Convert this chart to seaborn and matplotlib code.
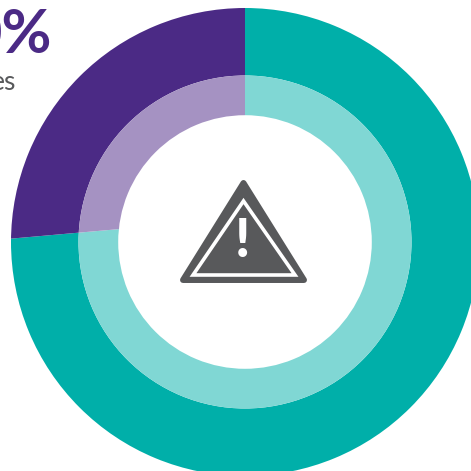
import matplotlib
matplotlib.use("Agg")
import matplotlib.pyplot as plt
from matplotlib.patches import Polygon, Wedge
import seaborn as sns

# ring shares, teal first then purple (clockwise from 12 o'clock)
ring_share = [73.6, 26.4]
outer_colors = ["#00afa9", "#4b2a85"]
inner_colors = ["#80d7d4", "#a592c2"]

headline = "0%"
caption = "es"

sns.set_theme(style="white")
plt.rcParams["font.family"] = ["Lato", "DejaVu Sans"]

fig = plt.figure(figsize=(4.71, 4.71), dpi=100)
ax = fig.add_axes([0, 0, 1, 1])

# pixel coordinates, y flipped by hand so the pie keeps its direction
H = 471
cx, cy = 245, H - 242
# the split between colours meets above the ring centre in the original
split = (245, H - 218)


def draw_ring(colors, r_out, width):
    wedges, _ = ax.pie(ring_share, colors=colors, startangle=90, counterclock=False,
                       center=split, radius=400, frame=True,
                       wedgeprops=dict(linewidth=0))
    ring = Wedge((cx, cy), r_out, 0, 360, width=width, transform=ax.transData)
    for w in wedges:
        # pie turns clipping off on its wedges
        w.set_clip_on(True)
        w.set_clip_path(ring)


draw_ring(outer_colors, 234, 67.5)
draw_ring(inner_colors, 166.5, 39.7)

ax.set_xlim(0, 471)
ax.set_ylim(0, 471)
ax.set_aspect("equal")
ax.axis("off")

# warning sign
grey = "#58595b"
ax.add_patch(Polygon([(243.5, H - 183), (304, H - 280), (183, H - 280)], closed=True,
                     fc=grey, ec=grey, lw=4.3, joinstyle="round"))
ax.add_patch(Polygon([(243.5, H - 201), (295, H - 275), (193, H - 275)], closed=True,
                     fc="none", ec="white", lw=2.6, joinstyle="miter"))
ax.text(243, H - 241.5, "!", color="white", fontsize=39, fontweight="black",
        ha="center", va="center")

ax.text(52, H - 35, headline, color="#4b2a85", fontsize=44, fontweight="bold",
        ha="right", va="center")
ax.text(16, H - 82, caption, color="#58595b", fontsize=19, ha="right", va="center")

fig.savefig("out.png", dpi=100)
